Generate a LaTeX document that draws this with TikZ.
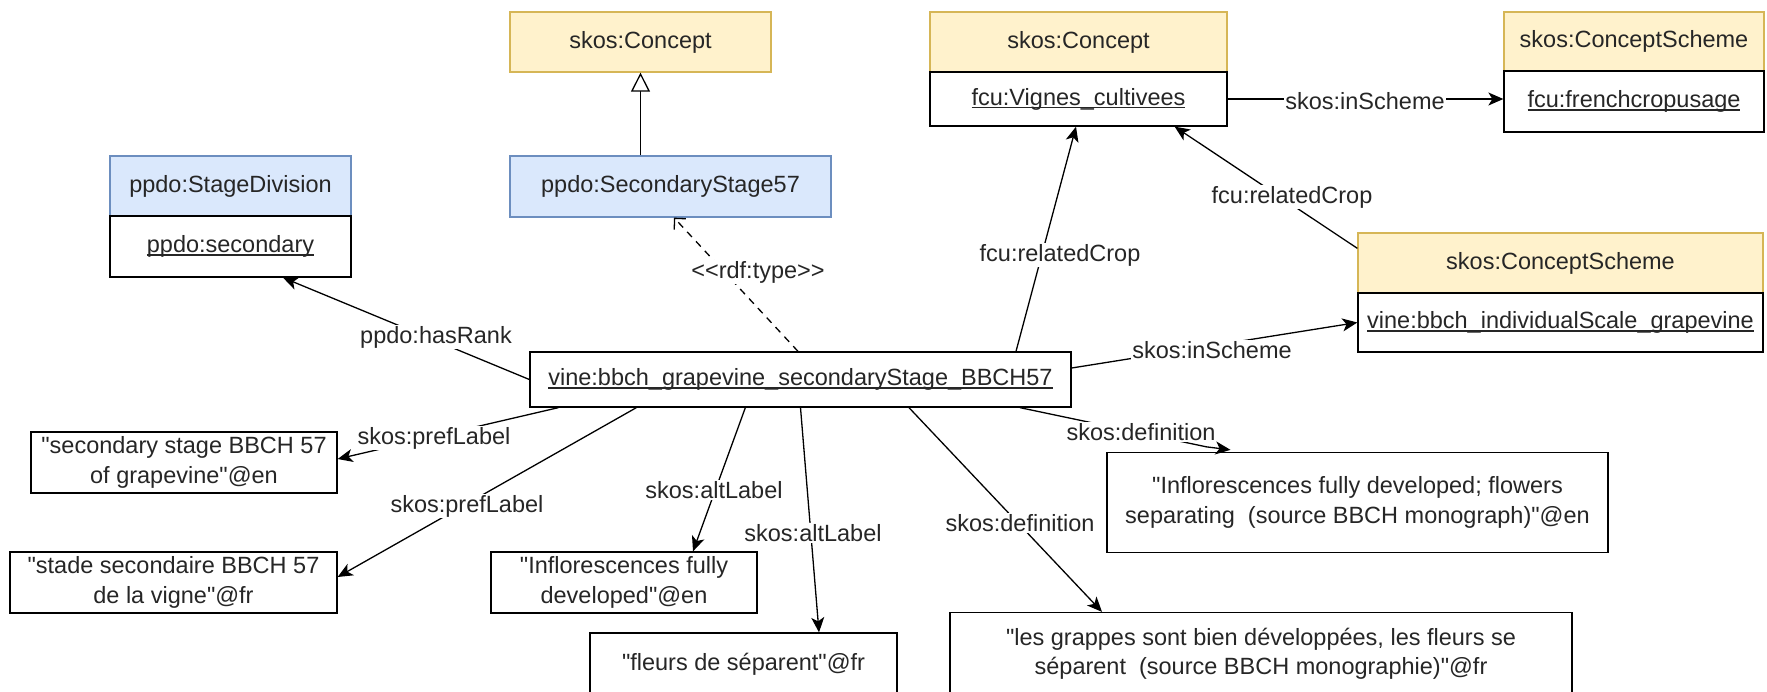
\documentclass[tikz,border=0pt]{standalone}
\usepackage{fontspec}
\newfontfamily\lsans{Liberation Sans}
\usetikzlibrary{arrows.meta}
\definecolor{yelF}{HTML}{FFF2CC}
\definecolor{yelD}{HTML}{D6B656}
\definecolor{bluF}{HTML}{DAE8FC}
\definecolor{bluD}{HTML}{6C8EBF}
\definecolor{txt}{HTML}{262626}
\newcommand\myul[1]{\setbox0=\hbox{#1}\rlap{\rule[-3pt]{\wd0}{1.1pt}}\box0}
\begin{document}
\begin{tikzpicture}[x=1pt,y=-1pt,
  every node/.style={font=\lsans\fontsize{23.5}{29.5}\selectfont, inner sep=0pt, text=txt},
  bx/.style 2 args={rectangle, line width=1.3pt, minimum width=#1pt, minimum height=#2pt},
  yel/.style={fill=yelF, draw=yelD},
  blu/.style={fill=bluF, draw=bluD},
  inst/.style={fill=white, draw=black},
  lit/.style={fill=white, draw=black, align=center},
  lbl/.style={fill=white, inner sep=1pt},
  rel/.style={line width=1.3pt, -{Stealth[length=15pt,width=13pt,inset=4pt]}},
  typ/.style={line width=1.3pt, dash pattern=on 7pt off 6pt, -{Straight Barb[length=8pt,width=16pt,line width=1.3pt]}},
  gen/.style={line width=1.3pt, -{Triangle[open,length=19pt,width=19pt,fill=white]}},
]
\clip (0,0) rectangle (1767,691);
\fill[white] (0,0) rectangle (1767,691);

\node[bx={261}{60}, yel] (c1) at (640.5,42) {skos:Concept};
\node[bx={321}{61}, blu] (ss) at (670.5,186.5) {ppdo:SecondaryStage57};
\node[bx={241}{60}, blu] (sdH) at (230.5,186) {ppdo:StageDivision};
\node[bx={241}{61}, inst] (sd) at (230.5,246.5) {\myul{ppdo:secondary}};
\node[bx={297}{60}, yel] (c2H) at (1078.5,42) {skos:Concept};
\node[bx={297}{54}, inst] (vig) at (1078.5,99) {\myul{fcu:Vignes\_cultivees}};
\node[bx={260}{59}, yel] (cs1H) at (1634,41.5) {skos:ConceptScheme};
\node[bx={260}{61}, inst] (fcs) at (1634,101.5) {\myul{fcu:frenchcropusage}};
\node[bx={405}{60}, yel] (cs2H) at (1560.5,263) {skos:ConceptScheme};
\node[bx={405}{59}, inst] (vbis) at (1560.5,322.5) {\myul{vine:bbch\_individualScale\_grapevine}};
\node[bx={541}{55}, inst] (main) at (800.5,379.5) {\myul{vine:bbch\_grapevine\_secondaryStage\_BBCH57}};
\node[bx={306}{61}, lit] (enp) at (184,462.5) {"secondary stage BBCH 57\\of grapevine"@en};
\node[bx={327}{61}, lit] (frp) at (173.5,582.5) {"stade secondaire BBCH 57\\de la vigne"@fr};
\node[bx={266}{61}, lit] (infl) at (624,582.5) {"Inflorescences fully\\developed"@en};
\node[bx={307}{62}, lit] (fl) at (743.5,664) {"fleurs de séparent"@fr};
\node[bx={501}{100}, lit] (defen) at (1357.5,502.5) {"Inflorescences fully developed; flowers\\separating\ \ (source BBCH monograph)"@en};
\node[bx={622}{83}, lit] (deffr) at (1261,654) {"les grappes sont bien développées, les fleurs se\\séparent\ \ (source BBCH monographie)"@fr};

\draw[gen] (c1.south |- ss.north) -- (c1.south);
\draw[typ] ([xshift=-2.5pt]main.north) -- ([xshift=3.5pt]ss.south);
\draw[rel] ([xshift=215.5pt]main.north) -- ([xshift=-2.5pt]vig.south);
\draw[rel] ([yshift=-16pt]cs2H.north west) -- ([xshift=-53pt]vig.south east);
\draw[rel] (vig.east) -- (vig.east -| fcs.west);
\draw[rel] (main.west) -- ([xshift=52.5pt]sd.south);
\draw[rel] ([yshift=11.5pt]main.east) -- (vbis.west);
\draw[rel] ([xshift=29pt]main.south west) -- ([yshift=3.5pt]enp.east);
\draw[rel] ([xshift=107pt]main.south west) -- ([yshift=5.5pt]frp.east);
\draw[rel] ([xshift=216pt]main.south west) -- ([xshift=69pt]infl.north);
\draw[rel] (main.south) -- ([xshift=75.5pt]fl.north);
\draw[rel] ([xshift=108.5pt]main.south) -- ([xshift=-159pt]deffr.north);
\draw[rel] ([xshift=219.5pt]main.south) -- ([xshift=-151pt,yshift=5pt]defen.north) -- ([xshift=-127pt,yshift=2pt]defen.north);

\node[lbl] (l1) at (436,337) {ppdo:hasRank};
\node[lbl] (l2) at (758,272) {<<rdf:type>>};
\node[lbl] (l3) at (1060,255) {fcu:relatedCrop};
\node[lbl] (l4) at (1292,197) {fcu:relatedCrop};
\node[lbl] (l5) at (1365,101) {skos:inScheme};
\node[lbl] (l6) at (1212,350) {skos:inScheme};
\node[lbl] (l7) at (434,438) {skos:prefLabel};
\node[lbl] (l8) at (467,506) {skos:prefLabel};
\node[lbl] (l9) at (714,490) {skos:altLabel};
\node[lbl] (l10) at (813,533) {skos:altLabel};
\node[lbl] (l11) at (1020,523) {skos:definition};
\node[lbl] (l12) at (1141,432) {skos:definition};
\end{tikzpicture}
\end{document}
